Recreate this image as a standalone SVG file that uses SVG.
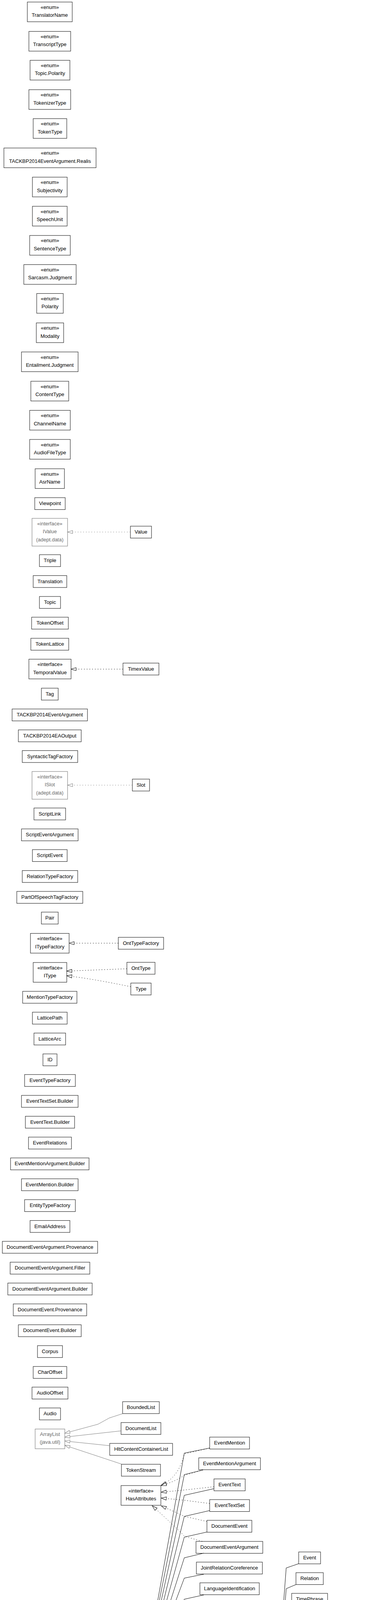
<svg xmlns="http://www.w3.org/2000/svg" width="963" height="5329" viewBox="0 0 963 5329">
<style>
.n rect{fill:#fff;stroke:#1a1a1a;stroke-width:1.1}
.g rect{fill:#fff;stroke:#7a7a7a;stroke-width:1.1}
text{font-family:"Liberation Sans",Arial,Helvetica,sans-serif;font-size:13px;text-anchor:middle;fill:#000}
.g text{fill:#6a6a6a}
.it text{font-style:italic}
.e path{fill:none;stroke:#000;stroke-width:1;marker-end:url(#a)}
.e path.gr{stroke:#7a7a7a;marker-end:url(#ag)}
.e path.d{stroke-dasharray:2,5}
</style>
<defs>
<marker id="a" markerUnits="userSpaceOnUse" markerWidth="15" markerHeight="11" refX="14" refY="5.5" orient="auto" viewBox="0 0 15 11"><path d="M1,1.5 L14,5.5 L1,9.5 Z" fill="#fff" stroke="#000" stroke-width="1"/></marker>
<marker id="ag" markerUnits="userSpaceOnUse" markerWidth="15" markerHeight="11" refX="14" refY="5.5" orient="auto" viewBox="0 0 15 11"><path d="M1,1.5 L14,5.5 L1,9.5 Z" fill="#fff" stroke="#7a7a7a" stroke-width="1"/></marker>
</defs>
<rect x="0" y="0" width="963" height="5329" fill="#fff"/>

<g id="n-TranslatorName" class="n"><rect x="70" y="5.2" width="115" height="50.5"/><text x="127.5" y="22.7">«enum»</text><text x="127.5" y="43.2">TranslatorName</text></g>
<g id="n-TranscriptType" class="n"><rect x="74" y="80.4" width="107" height="50.5"/><text x="127.5" y="97.9">«enum»</text><text x="127.5" y="118.4">TranscriptType</text></g>
<g id="n-TopicPolarity" class="n"><rect x="77" y="154.4" width="102" height="50.5"/><text x="128" y="171.9">«enum»</text><text x="128" y="192.4">Topic.Polarity</text></g>
<g id="n-TokenizerType" class="n"><rect x="74" y="229.6" width="107" height="50.5"/><text x="127.5" y="247.1">«enum»</text><text x="127.5" y="267.6">TokenizerType</text></g>
<g id="n-TokenType" class="n"><rect x="85" y="303.7" width="86" height="50.5"/><text x="128" y="321.2">«enum»</text><text x="128" y="341.7">TokenType</text></g>
<g id="n-Realis" class="n"><rect x="10" y="378.9" width="236" height="50.5"/><text x="128" y="396.4">«enum»</text><text x="128" y="416.9">TACKBP2014EventArgument.Realis</text></g>
<g id="n-Subjectivity" class="n"><rect x="83" y="453.5" width="89" height="50.5"/><text x="127.5" y="471">«enum»</text><text x="127.5" y="491.5">Subjectivity</text></g>
<g id="n-SpeechUnit" class="n"><rect x="83" y="528.1" width="89" height="50.5"/><text x="127.5" y="545.6">«enum»</text><text x="127.5" y="566.1">SpeechUnit</text></g>
<g id="n-SentenceType" class="n"><rect x="76" y="602.8" width="104" height="50.5"/><text x="128" y="620.3">«enum»</text><text x="128" y="640.8">SentenceType</text></g>
<g id="n-SarcasmJudgment" class="n"><rect x="61" y="677.4" width="134" height="50.5"/><text x="128" y="694.9">«enum»</text><text x="128" y="715.4">Sarcasm.Judgment</text></g>
<g id="n-Polarity" class="n"><rect x="94" y="751.4" width="68" height="50.5"/><text x="128" y="768.9">«enum»</text><text x="128" y="789.4">Polarity</text></g>
<g id="n-Modality" class="n"><rect x="93" y="826.6" width="70" height="50.5"/><text x="128" y="844.1">«enum»</text><text x="128" y="864.6">Modality</text></g>
<g id="n-EntailmentJudgment" class="n"><rect x="55" y="901" width="145" height="50.5"/><text x="127.5" y="918.5">«enum»</text><text x="127.5" y="939">Entailment.Judgment</text></g>
<g id="n-ContentType" class="n"><rect x="79" y="976" width="97" height="50.5"/><text x="127.5" y="993.5">«enum»</text><text x="127.5" y="1014">ContentType</text></g>
<g id="n-ChannelName" class="n"><rect x="76" y="1050.5" width="104" height="50.5"/><text x="128" y="1068">«enum»</text><text x="128" y="1088.5">ChannelName</text></g>
<g id="n-AudioFileType" class="n"><rect x="76" y="1125" width="104" height="50.5"/><text x="128" y="1142.5">«enum»</text><text x="128" y="1163">AudioFileType</text></g>
<g id="n-AsrName" class="n"><rect x="90" y="1200" width="75" height="50.5"/><text x="127.5" y="1217.5">«enum»</text><text x="127.5" y="1238">AsrName</text></g>
<g id="n-Viewpoint" class="n"><rect x="89" y="1274" width="78" height="30.5"/><text x="128" y="1293">Viewpoint</text></g>
<g id="n-IValue" class="g"><rect x="82" y="1327" width="91" height="71"/><text x="127.5" y="1344.5">«interface»</text><text x="127.5" y="1365">IValue</text><text x="127.5" y="1385.5">(adept.data)</text></g>
<g id="n-Value" class="n"><rect x="334" y="1347" width="54" height="30.5"/><text x="361" y="1366">Value</text></g>
<g id="n-Triple" class="n"><rect x="101" y="1420" width="54" height="30.5"/><text x="128" y="1439">Triple</text></g>
<g id="n-Translation" class="n"><rect x="85" y="1473.5" width="86" height="30.5"/><text x="128" y="1492.5">Translation</text></g>
<g id="n-Topic" class="n"><rect x="101" y="1527" width="54" height="30.5"/><text x="128" y="1546">Topic</text></g>
<g id="n-TokenOffset" class="n"><rect x="81" y="1580" width="94" height="30.5"/><text x="128" y="1599">TokenOffset</text></g>
<g id="n-TokenLattice" class="n"><rect x="79" y="1634" width="97" height="30.5"/><text x="127.5" y="1653">TokenLattice</text></g>
<g id="n-TemporalValue" class="n"><rect x="74" y="1687.5" width="108" height="50.5"/><text x="128" y="1705">«interface»</text><text x="128" y="1725.5">TemporalValue</text></g>
<g id="n-TimexValue" class="n"><rect x="315" y="1697.5" width="92" height="30.5"/><text x="361" y="1716.5">TimexValue</text></g>
<g id="n-Tag" class="n"><rect x="106" y="1761.7" width="43" height="30.5"/><text x="127.5" y="1780.7">Tag</text></g>
<g id="n-TACKBP2014EventArgument" class="n"><rect x="31" y="1815" width="193" height="30.5"/><text x="127.5" y="1834">TACKBP2014EventArgument</text></g>
<g id="n-TACKBP2014EAOutput" class="n"><rect x="47" y="1868.5" width="161" height="30.5"/><text x="127.5" y="1887.5">TACKBP2014EAOutput</text></g>
<g id="n-SyntacticTagFactory" class="n"><rect x="57" y="1921.5" width="142" height="30.5"/><text x="128" y="1940.5">SyntacticTagFactory</text></g>
<g id="n-ISlot" class="g"><rect x="82" y="1975" width="91" height="71"/><text x="127.5" y="1992.5">«interface»</text><text x="127.5" y="2013">ISlot</text><text x="127.5" y="2033.5">(adept.data)</text></g>
<g id="n-Slot" class="n"><rect x="339" y="1994.5" width="44" height="30.5"/><text x="361" y="2013.5">Slot</text></g>
<g id="n-ScriptLink" class="n"><rect x="87" y="2068.5" width="81" height="30.5"/><text x="127.5" y="2087.5">ScriptLink</text></g>
<g id="n-ScriptEventArgument" class="n"><rect x="55" y="2122" width="145" height="30.5"/><text x="127.5" y="2141">ScriptEventArgument</text></g>
<g id="n-ScriptEvent" class="n"><rect x="83" y="2175" width="89" height="30.5"/><text x="127.5" y="2194">ScriptEvent</text></g>
<g id="n-RelationTypeFactory" class="n"><rect x="57" y="2228.6" width="142" height="30.5"/><text x="128" y="2247.6">RelationTypeFactory</text></g>
<g id="n-PartOfSpeechTagFactory" class="n"><rect x="43" y="2282" width="169" height="30.5"/><text x="127.5" y="2301">PartOfSpeechTagFactory</text></g>
<g id="n-Pair" class="n"><rect x="106" y="2335" width="43" height="30.5"/><text x="127.5" y="2354">Pair</text></g>
<g id="n-ITypeFactory" class="n"><rect x="78" y="2389.5" width="99" height="50.5"/><text x="127.5" y="2407">«interface»</text><text x="127.5" y="2427.5">ITypeFactory</text></g>
<g id="n-OntTypeFactory" class="n"><rect x="303" y="2399.5" width="116" height="30.5"/><text x="361" y="2418.5">OntTypeFactory</text></g>
<g id="n-IType" class="n"><rect x="85" y="2464" width="86" height="50.5"/><text x="128" y="2481.5">«interface»</text><text x="128" y="2502">IType</text></g>
<g id="n-OntType" class="n"><rect x="325" y="2463.5" width="72" height="30.5"/><text x="361" y="2482.5">OntType</text></g>
<g id="n-Type" class="n"><rect x="335" y="2516.6" width="52" height="30.5"/><text x="361" y="2535.6">Type</text></g>
<g id="n-MentionTypeFactory" class="n"><rect x="58" y="2537.8" width="139" height="30.5"/><text x="127.5" y="2556.8">MentionTypeFactory</text></g>
<g id="n-LatticePath" class="n"><rect x="83" y="2591.2" width="89" height="30.5"/><text x="127.5" y="2610.2">LatticePath</text></g>
<g id="n-LatticeArc" class="n"><rect x="87" y="2644.6" width="81" height="30.5"/><text x="127.5" y="2663.6">LatticeArc</text></g>
<g id="n-ID" class="n"><rect x="110" y="2698" width="36" height="30.5"/><text x="128" y="2717">ID</text></g>
<g id="n-EventTypeFactory" class="n"><rect x="63" y="2750.8" width="130" height="30.5"/><text x="128" y="2769.8">EventTypeFactory</text></g>
<g id="n-EventTextSetBuilder" class="n"><rect x="55" y="2804.2" width="145" height="30.5"/><text x="127.5" y="2823.2">EventTextSet.Builder</text></g>
<g id="n-EventTextBuilder" class="n"><rect x="65" y="2857.6" width="126" height="30.5"/><text x="128" y="2876.6">EventText.Builder</text></g>
<g id="n-EventRelations" class="n"><rect x="73" y="2911" width="110" height="30.5"/><text x="128" y="2930">EventRelations</text></g>
<g id="n-EventMentionArgumentBuilder" class="n"><rect x="27" y="2964.3" width="201" height="30.5"/><text x="127.5" y="2983.3">EventMentionArgument.Builder</text></g>
<g id="n-EventMentionBuilder" class="n"><rect x="55" y="3017.7" width="145" height="30.5"/><text x="127.5" y="3036.7">EventMention.Builder</text></g>
<g id="n-EntityTypeFactory" class="n"><rect x="63" y="3071.1" width="130" height="30.5"/><text x="128" y="3090.1">EntityTypeFactory</text></g>
<g id="n-EmailAddress" class="n"><rect x="77" y="3124.5" width="102" height="30.5"/><text x="128" y="3143.5">EmailAddress</text></g>
<g id="n-DEAProvenance" class="n"><rect x="6" y="3177.8" width="244" height="30.5"/><text x="128" y="3196.8">DocumentEventArgument.Provenance</text></g>
<g id="n-DEAFiller" class="n"><rect x="26" y="3231.2" width="204" height="30.5"/><text x="128" y="3250.2">DocumentEventArgument.Filler</text></g>
<g id="n-DEABuilder" class="n"><rect x="20" y="3284.6" width="216" height="30.5"/><text x="128" y="3303.6">DocumentEventArgument.Builder</text></g>
<g id="n-DEProvenance" class="n"><rect x="34" y="3338" width="188" height="30.5"/><text x="128" y="3357">DocumentEvent.Provenance</text></g>
<g id="n-DEBuilder" class="n"><rect x="47" y="3391.4" width="161" height="30.5"/><text x="127.5" y="3410.4">DocumentEvent.Builder</text></g>
<g id="n-Corpus" class="n"><rect x="96" y="3444.8" width="64" height="30.5"/><text x="128" y="3463.8">Corpus</text></g>
<g id="n-CharOffset" class="n"><rect x="85" y="3498.2" width="86" height="30.5"/><text x="128" y="3517.2">CharOffset</text></g>
<g id="n-AudioOffset" class="n"><rect x="82" y="3551" width="92" height="30.5"/><text x="128" y="3570">AudioOffset</text></g>
<g id="n-Audio" class="n"><rect x="101" y="3604.4" width="54" height="30.5"/><text x="128" y="3623.4">Audio</text></g>
<g id="n-ArrayList" class="g"><rect x="90" y="3658.3" width="76" height="50.5"/><text x="128" y="3675.8">ArrayList</text><text x="128" y="3696.3">(java.util)</text></g>
<g id="n-BoundedList" class="n"><rect x="314" y="3588.3" width="94" height="30.5"/><text x="361" y="3607.3">BoundedList</text></g>
<g id="n-DocumentList" class="n"><rect x="310" y="3641.7" width="102" height="30.5"/><text x="361" y="3660.7">DocumentList</text></g>
<g id="n-HltContentContainerList" class="n"><rect x="281" y="3695.1" width="161" height="30.5"/><text x="361.5" y="3714.1">HltContentContainerList</text></g>
<g id="n-TokenStream" class="n"><rect x="311" y="3748.5" width="100" height="30.5"/><text x="361" y="3767.5">TokenStream</text></g>
<g id="n-HasAttributes" class="n"><rect x="310" y="3803" width="102" height="50.5"/><text x="361" y="3820.5">«interface»</text><text x="361" y="3841">HasAttributes</text></g>
<g id="n-ArgumentTypeFactory" class="n"><rect x="53" y="4315" width="150" height="30.5"/><text x="128" y="4334">ArgumentTypeFactory</text></g>
<g id="n-HltContent" class="n it"><rect x="319" y="4319" width="84" height="30.5"/><text x="361" y="4338">HltContent</text></g>

<g id="n-EventMention" class="n"><rect x="537" y="3679" width="102" height="30.5"/><text x="588" y="3698">EventMention</text></g>
<g id="n-EventMentionArgument" class="n"><rect x="509" y="3732" width="158" height="30.5"/><text x="588" y="3751">EventMentionArgument</text></g>
<g id="n-EventText" class="n"><rect x="548" y="3786" width="80" height="30.5"/><text x="588" y="3805">EventText</text></g>
<g id="n-EventTextSet" class="n"><rect x="537" y="3839" width="102" height="30.5"/><text x="588" y="3858">EventTextSet</text></g>
<g id="n-DocumentEvent" class="n"><rect x="530" y="3892" width="115" height="30.5"/><text x="587.5" y="3911">DocumentEvent</text></g>
<g id="n-DocumentEventArgument" class="n"><rect x="502" y="3946" width="171" height="30.5"/><text x="587.5" y="3965">DocumentEventArgument</text></g>
<g id="n-JointRelationCoreference" class="n"><rect x="503" y="3999" width="169" height="30.5"/><text x="587.5" y="4018">JointRelationCoreference</text></g>
<g id="n-LanguageIdentification" class="n"><rect x="512" y="4052" width="152" height="30.5"/><text x="588" y="4071">LanguageIdentification</text></g>
<g id="n-Script" class="n"><rect x="559" y="4106" width="57" height="30.5"/><text x="587.5" y="4125">Script</text></g>
<g id="n-ScriptVariable" class="n"><rect x="537" y="4159" width="102" height="30.5"/><text x="588" y="4178">ScriptVariable</text></g>
<g id="n-ScriptVariableBinaryConstraint" class="n"><rect x="488" y="4213" width="200" height="30.5"/><text x="588" y="4232">ScriptVariableBinaryConstraint</text></g>
<g id="n-SentenceSimilarity" class="n"><rect x="522" y="4266" width="131" height="30.5"/><text x="587.5" y="4285">SentenceSimilarity</text></g>
<g id="n-AnomalousText" class="n"><rect x="531" y="4319" width="113" height="30.5"/><text x="587.5" y="4338">AnomalousText</text></g>
<g id="n-Argument" class="n"><rect x="549" y="4373" width="78" height="30.5"/><text x="588" y="4392">Argument</text></g>
<g id="n-ArgumentTuple" class="n"><rect x="533" y="4426" width="110" height="30.5"/><text x="588" y="4445">ArgumentTuple</text></g>
<g id="n-Chunk" class="n"><rect x="558" y="4479" width="59" height="30.5"/><text x="587.5" y="4498">Chunk</text></g>
<g id="n-Coreference" class="n"><rect x="542" y="4532" width="91" height="30.5"/><text x="587.5" y="4551">Coreference</text></g>
<g id="n-Dependency" class="n"><rect x="541" y="4586" width="94" height="30.5"/><text x="588" y="4605">Dependency</text></g>
<g id="n-Entailment" class="n"><rect x="547" y="4639.5" width="82" height="30.5"/><text x="588" y="4658.5">Entailment</text></g>
<g id="n-HltContentContainer" class="n"><rect x="519" y="4693" width="138" height="30.5"/><text x="588" y="4712">HltContentContainer</text></g>
<g id="n-InterPausalUnit" class="n"><rect x="532" y="4746" width="112" height="30.5"/><text x="588" y="4765">InterPausalUnit</text></g>
<g id="n-Entity" class="n"><rect x="560" y="4799.5" width="56" height="30.5"/><text x="588" y="4818.5">Entity</text></g>
<g id="n-KBEntity" class="n"><rect x="552" y="4852.5" width="72" height="30.5"/><text x="588" y="4871.5">KBEntity</text></g>
<g id="n-Paraphrase" class="n"><rect x="544" y="4906" width="88" height="30.5"/><text x="588" y="4925">Paraphrase</text></g>

<g id="n-Event" class="n"><rect x="765" y="3973" width="56" height="30.5"/><text x="793" y="3992">Event</text></g>
<g id="n-Relation" class="n"><rect x="758" y="4026" width="70" height="30.5"/><text x="793" y="4045">Relation</text></g>
<g id="n-TimePhrase" class="n"><rect x="747" y="4079" width="92" height="30.5"/><text x="793" y="4098">TimePhrase</text></g>
<g id="n-Utterance" class="n"><rect x="754" y="4132" width="78" height="30.5"/><text x="793" y="4151">Utterance</text></g>
<g id="n-CommittedBelief" class="n"><rect x="734" y="4186" width="118" height="30.5"/><text x="793" y="4205">CommittedBelief</text></g>
<g id="n-DiscourseUnit" class="n"><rect x="741" y="4239" width="104" height="30.5"/><text x="793" y="4258">DiscourseUnit</text></g>
<g id="n-EntityMention" class="n"><rect x="742" y="4292" width="102" height="30.5"/><text x="793" y="4311">EntityMention</text></g>
<g id="n-EventPhrase" class="n"><rect x="745" y="4346" width="96" height="30.5"/><text x="793" y="4365">EventPhrase</text></g>
<g id="n-Opinion" class="n"><rect x="761" y="4399" width="64" height="30.5"/><text x="793" y="4418">Opinion</text></g>
<g id="n-PartOfSpeech" class="n"><rect x="741" y="4453" width="104" height="30.5"/><text x="793" y="4472">PartOfSpeech</text></g>
<g id="n-Passage" class="n"><rect x="757" y="4506" width="72" height="30.5"/><text x="793" y="4525">Passage</text></g>
<g id="n-Message" class="n"><rect x="882" y="4506" width="75" height="30.5"/><text x="919.5" y="4525">Message</text></g>
<g id="n-Post" class="n"><rect x="769" y="4559" width="48" height="30.5"/><text x="793" y="4578">Post</text></g>
<g id="n-PostQuote" class="n"><rect x="752" y="4613" width="83" height="30.5"/><text x="793.5" y="4632">PostQuote</text></g>
<g id="n-ProsodicPhrase" class="n"><rect x="737" y="4666" width="112" height="30.5"/><text x="793" y="4685">ProsodicPhrase</text></g>
<g id="n-Sarcasm" class="n"><rect x="757" y="4719" width="72" height="30.5"/><text x="793" y="4738">Sarcasm</text></g>
<g id="n-Sentence" class="n"><rect x="756" y="4772" width="75" height="30.5"/><text x="793.5" y="4791">Sentence</text></g>
<g id="n-Session" class="n"><rect x="760" y="4826" width="67" height="30.5"/><text x="793.5" y="4845">Session</text></g>
<g id="n-Story" class="n"><rect x="768" y="4879" width="51" height="30.5"/><text x="793.5" y="4898">Story</text></g>
<g id="n-SyntacticChunk" class="n"><rect x="736" y="4933" width="115" height="30.5"/><text x="793.5" y="4952">SyntacticChunk</text></g>
<g id="n-TaggedChunk" class="n"><rect x="742" y="4986" width="102" height="30.5"/><text x="793" y="5005">TaggedChunk</text></g>

<g id="n-IEntity" class="g"><rect x="316" y="4782" width="91" height="71"/><text x="361.5" y="4799.5">«interface»</text><text x="361.5" y="4820">IEntity</text><text x="361.5" y="4840.5">(adept.data)</text></g>
<g id="n-Comparable" class="g"><rect x="316" y="4882" width="91" height="71"/><text x="361.5" y="4899.5">«interface»</text><text x="361.5" y="4920">Comparable</text><text x="361.5" y="4940.5">(java.lang)</text></g>
<g id="n-Document" class="n"><rect x="321" y="4975" width="81" height="30.5"/><text x="361.5" y="4994">Document</text></g>
<g id="n-Justification" class="g"><rect x="316" y="5030" width="91" height="50.5"/><text x="361.5" y="5047.5">Justification</text><text x="361.5" y="5068">(adept.data)</text></g>
<g id="n-Token" class="n"><rect x="333" y="5103" width="56" height="30.5"/><text x="361" y="5122">Token</text></g>
<g id="n-Item" class="n it"><rect x="104" y="5007" width="48" height="30.5"/><text x="128" y="5026">Item</text></g>
<g id="n-Exception" class="g"><rect x="82" y="5101" width="91" height="71"/><text x="127.5" y="5118.5">«exception»</text><text x="127.5" y="5139">Exception</text><text x="127.5" y="5159.5">(java.lang)</text></g>
<g id="n-Serializable" class="g"><rect x="83" y="5194" width="89" height="71"/><text x="127.5" y="5211.5">«interface»</text><text x="127.5" y="5232">Serializable</text><text x="127.5" y="5252.5">(java.io)</text></g>
<g id="n-AdeptException" class="n"><rect x="305" y="5157" width="112" height="50.5"/><text x="361" y="5174.5">«exception»</text><text x="361" y="5195">AdeptException</text></g>
<g id="n-AdeptDataException" class="g"><rect x="517" y="5011" width="142" height="71"/><text x="588" y="5028.5">«exception»</text><text x="588" y="5049">AdeptDataException</text><text x="588" y="5069.5">(adept.data)</text></g>
<g id="n-AdeptModuleException" class="g"><rect x="510" y="5104" width="155" height="71"/><text x="587.5" y="5121.5">«exception»</text><text x="587.5" y="5142">AdeptModuleException</text><text x="587.5" y="5162.5">(adept.module)</text></g>
<g id="n-SpeechDocumentCreationException" class="n"><rect x="472" y="5198" width="232" height="50.5"/><text x="588" y="5215.5">«exception»</text><text x="588" y="5236">SpeechDocumentCreationException</text></g>
<g id="n-TextDocumentCreationException" class="n"><rect x="481" y="5273" width="214" height="50.5"/><text x="588" y="5290.5">«exception»</text><text x="588" y="5311">TextDocumentCreationException</text></g>

<g id="connectors" class="e">
<path class="gr d" d="M334,1362 L173,1362"/>
<path class="d" d="M315,1713 L182,1713"/>
<path class="gr d" d="M339,2010 L173,2010"/>
<path class="d" d="M303,2414.5 L177,2414.5"/>
<path class="d" d="M325,2480 L171,2486"/>
<path class="d" d="M335,2526 Q233,2505 171,2498"/>

<path class="gr" d="M314,3619 L280,3630 L251,3646 L166,3669"/>
<path class="gr" d="M310,3663 L166,3679"/>
<path class="gr" d="M281,3701 L166,3689"/>
<path class="gr" d="M311,3748 L166,3700"/>

<path class="d" d="M537,3707 L472,3722 Q458,3782 413,3802"/>
<path class="d" d="M520,3763 L472,3777 Q450,3792 413,3803"/>
<path class="d" d="M548,3806 L467,3815 L413,3820"/>
<path class="d" d="M537,3849 L467,3840 L413,3835"/>
<path class="d" d="M530,3895 L473,3882 L413,3855"/>
<path class="d" d="M518,3946 L473,3933 Q440,3900 390,3855"/>

<path d="M537,3707 L472,3720 L364,4319"/>
<path d="M520,3763 L472,3775 L364.2,4319"/>
<path d="M548,3811 L472,3828 L364.5,4319"/>
<path d="M537,3867 L472,3882 L364.9,4319"/>
<path d="M530,3922 L472,3935 L365.4,4319"/>
<path d="M522,3976 L472,3988 L366.1,4319"/>
<path d="M522,4030 L472,4040 L367,4319"/>
<path d="M522,4083 L472,4094 L368.4,4319"/>
<path d="M559,4128 L472,4146 L370.4,4319"/>
<path d="M537,4186 L472,4200 L374.2,4319"/>
<path d="M517,4244 L472,4254 L382.9,4319"/>
<path d="M522,4296 L472,4307 L403,4324"/>
<path d="M531,4334.5 L403,4334.5"/>
<path d="M549,4379 L472,4361 L403,4345"/>
<path d="M533,4427 L472,4416 L381.6,4350"/>
<path d="M558,4488 L472,4467 L373.6,4350"/>
<path d="M542,4538 L472,4520 L370,4350"/>
<path d="M541,4589 L472,4575 L367.9,4350"/>
<path d="M546,4645 L472,4627 L366.7,4350"/>
<path d="M519,4693 L472,4682 L365.8,4350"/>
<path d="M532,4748 L472,4735 L365.2,4350"/>
<path d="M560,4808 L472,4788 L364.7,4350"/>
<path d="M552,4859 L472,4841 L364.3,4350"/>
<path d="M544,4911 L472,4895 L364,4350"/>

<path class="gr d" d="M560,4815 L407,4816"/>
<path class="gr d" d="M552,4858 L480,4843 L422,4831 L407,4829"/>
<path class="gr d" d="M544,4919 L407,4918"/>

<path d="M355,4350 L137,5007"/>
<path d="M321,4997 L152,5017"/>
<path d="M316,5048 L152,5027"/>
<path d="M333,5109 L283,5092 L152,5035"/>

<path class="gr" d="M305,5171 L173,5145"/>
<path class="gr d" d="M305,5194 L172,5220"/>
<path d="M517,5075 L472,5093 L443,5144 L417,5157"/>
<path d="M510,5154 L472,5160 L417,5171"/>
<path d="M472,5203 L417,5193"/>
<path d="M508,5273 L472,5260 L398,5209"/>

<path d="M765,4003 L733,4014 L703,4413 L643,4428"/>
<path d="M758,4056.5 L733,4067 L703,4467 L617,4484"/>
<path d="M758,4109.5 L733,4120 L703,4467 L617,4485"/>
<path d="M758,4162.5 L733,4174 L703,4467 L617,4486"/>
<path d="M758,4216.5 L733,4227 L703,4467 L617,4486"/>
<path d="M758,4269.5 L733,4281 L703,4467 L617,4487"/>
<path d="M758,4322.5 L733,4334 L703,4467 L617,4487"/>
<path d="M758,4376.5 L733,4387 L703,4467 L617,4488"/>
<path d="M761,4429.5 L733,4441 L703,4467 L617,4488"/>
<path d="M741,4475 L617,4491"/>
<path d="M757,4517 L617,4496"/>
<path d="M769,4559 L733,4548 L704,4522 L617,4500"/>
<path d="M758,4613 L733,4601 L704,4522 L617,4500"/>
<path d="M758,4666 L733,4655 L704,4522 L617,4501"/>
<path d="M758,4719 L733,4709 L704,4522 L617,4501"/>
<path d="M758,4772 L733,4763 L704,4522 L617,4502"/>
<path d="M760,4826 L733,4816 L704,4522 L617,4502"/>
<path d="M768,4879 L733,4868 L704,4522 L617,4503"/>
<path d="M758,4933 L733,4921 L704,4522 L617,4503"/>
<path d="M758,4986 L733,4974 L704,4522 L617,4504"/>
<path d="M882,4521 L829,4521"/>
</g>
</svg>
